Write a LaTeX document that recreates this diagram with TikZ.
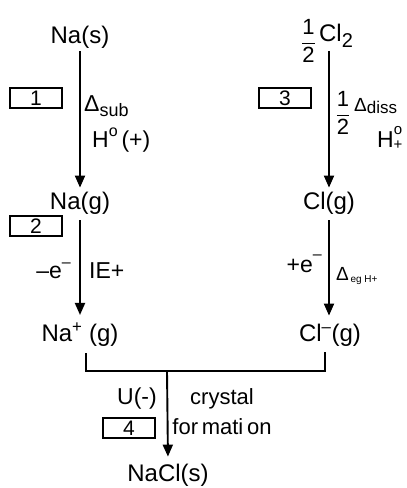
\documentclass[tikz,border=0pt]{standalone}
\usepackage{fontspec}
\usepackage{amsmath}
\setmainfont{Liberation Sans}
\usetikzlibrary{arrows.meta}
\newcommand{\rz}[3]{\raisebox{#2}{\fontsize{#1}{#1}\selectfont #3}}
\begin{document}
\begin{tikzpicture}[x=1pt,y=-1pt,
  chem/.style={font=\fontsize{24}{28}\selectfont, inner sep=2pt},
  lbl/.style={font=\fontsize{23}{26}\selectfont, inner sep=0pt},
  numbox/.style={draw, line width=1.4pt, minimum width=52pt, minimum height=20pt, inner sep=0pt, font=\fontsize{21}{22}\selectfont},
  arr/.style={line width=1.9pt, -{Triangle[width=10pt,length=12pt]}},
  brk/.style={line width=1.6pt},
]
\useasboundingbox (0,0) rectangle (407,488);
% species
\node[chem] (nas) at (80,37) {Na(s)};
\node[chem] (nag) at (80,203) {Na(g)};
\node[chem] (nap) at (80,335) {Na\textsuperscript{+} (g)};
\node[chem] (cl2) at (336,36) {Cl\rz{20}{-6pt}{2}};
\node[chem, anchor=east, inner sep=0pt, font=\fontsize{22}{24}\selectfont] (half) at ([xshift=-1pt,yshift=-5pt]cl2.west) {$\displaystyle\frac{\text{1}}{\text{2}}$};
\node[chem] (clg) at (329,203) {Cl(g)};
\node[chem] (clm) at (330,335) {Cl\textsuperscript{–}(g)};
\node[chem] (nacl) at (168,475) {NaCl(s)};
% arrows
\draw[arr, shorten <=1pt, shorten >=2pt] (nas.south) -- (nag.north);
\draw[arr, shorten <=4pt, shorten >=6pt] (nag.south) -- (nap.north);
\draw[arr, shorten <=1pt, shorten >=2pt] (cl2.south -| clg.north) -- (clg.north);
\draw[arr, shorten <=4pt, shorten >=6pt] (clg.south) -- (clg.south |- clm.north);
% bracket
\coordinate (bl) at (86,371);
\coordinate (br) at (325,371);
\coordinate (bm) at (167,371);
\draw[brk, shorten <=4pt, shorten >=4pt] (nap.south -| bl) -- (bl) -- (br) -- (clm.south -| br);
\draw[arr, shorten >=5pt] (bm) -- (nacl.north);
% boxes
\node[numbox] (b1) at (36,98) {1};
\node[numbox] (b2) at (36,226) {2};
\node[numbox] (b3) at (285,98) {3};
\node[numbox] (b4) at (129,428) {4};
% labels
\node[lbl, anchor=west] (l1a) at (84,106) {Δ\rz{18}{-5pt}{sub}};
\node[lbl, anchor=west] (l1b) at (92,140) {H\rz{16}{11pt}{o}\,(+)};
\node[lbl, anchor=center, font=\fontsize{22}{24}\selectfont] (l3a) at (343,113) {$\displaystyle\frac{\text{1}}{\text{2}}$};
\node[lbl, anchor=west, font=\fontsize{19}{20}\selectfont] (l3b) at (354,106) {Δ\rz{17}{-2pt}{diss}};
\node[lbl, anchor=west] (l3c) at (377,138) {H\rz{15}{13pt}{o}\hspace{-8.5pt}\rz{15}{-2pt}{+}};
\node[lbl, anchor=east] (l2a) at (71,271) {–e\rz{16}{11pt}{–}};
\node[lbl, anchor=west] (l2b) at (89,271) {IE+};
\node[lbl, anchor=east] (l5a) at (322,264) {+e\rz{16}{13pt}{–}};
\node[lbl, anchor=west, font=\fontsize{19}{20}\selectfont] (l5b) at (336,276) {Δ\rz{10}{-2pt}{\,eg H+}};
\node[lbl] (l4a) at (137,399) {U(-)};
\node[lbl, font=\fontsize{22}{24}\selectfont] (l4b) at (222,399) {crystal};
\node[lbl, font=\fontsize{22}{24}\selectfont] (l4c) at (222,427) {for\,mati\,on};
\end{tikzpicture}
\end{document}
